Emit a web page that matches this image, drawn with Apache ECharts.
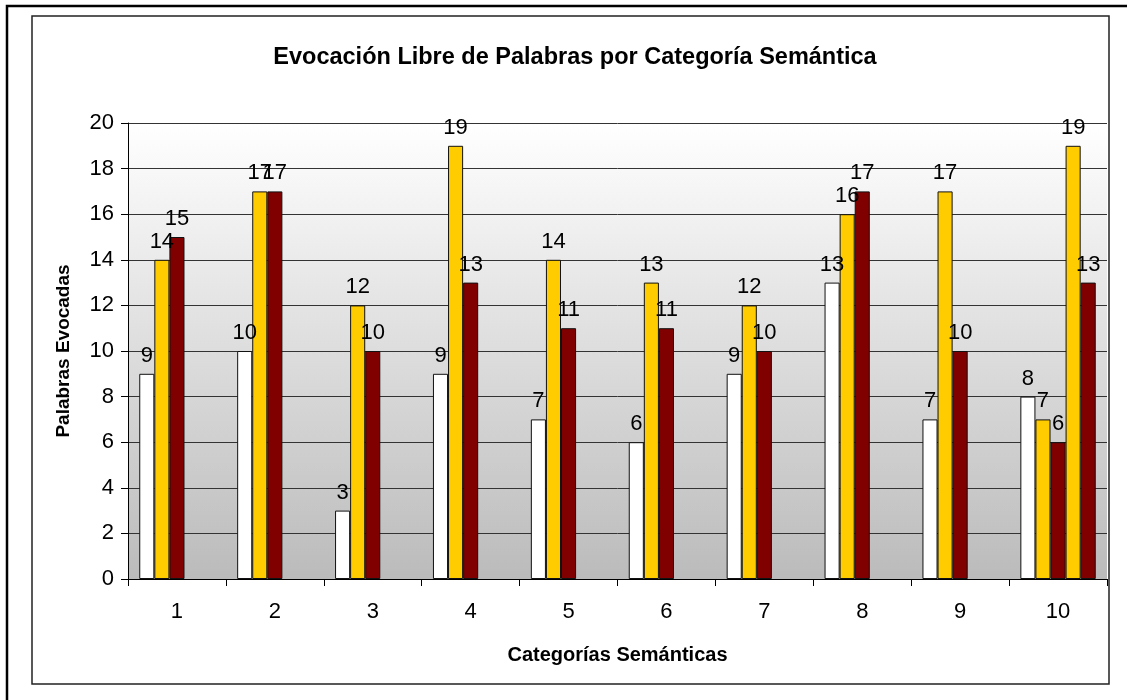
<!DOCTYPE html>
<html>
<head>
<meta charset="utf-8">
<script src="https://cdn.jsdelivr.net/npm/echarts@6/dist/echarts.min.js"></script>
<style>
  html, body { margin: 0; padding: 0; background: #ffffff; }
  #chart { width: 1127px; height: 700px; }
</style>
</head>
<body>
<div id="chart"></div>
<script>
// Semantic categories on the x axis
const categories = ['1', '2', '3', '4', '5', '6', '7', '8', '9', '10'];
// Words evoked per category, one array per bar series
const seriesWhite = [9, 10, 3, 9, 7, 6, 9, 13, 7, 8];
const seriesGold = [14, 17, 12, 19, 14, 13, 12, 16, 17, 7];
const seriesRed = [15, 17, 10, 13, 11, 11, 10, 17, 10, 6];
const seriesGold2 = [null, null, null, null, null, null, null, null, null, 19];
const seriesRed2 = [null, null, null, null, null, null, null, null, null, 13];
// Value axis ticks
const yTicks = [0, 2, 4, 6, 8, 10, 12, 14, 16, 18, 20];

const FONT = 'Liberation Sans, Arial, sans-serif';

function barSeries(data, color) {
  return {
    type: 'bar',
    data: data,
    barGap: '0%',
    barCategoryGap: '23%',
    itemStyle: { color: color, borderColor: '#111', borderWidth: 1 },
    label: {
      show: true,
      position: 'top',
      distance: 7,
      color: '#000',
      fontFamily: FONT,
      fontSize: 22
    }
  };
}

const chart = echarts.init(document.getElementById('chart'), null, { renderer: 'canvas' });
chart.setOption({
  animation: false,
  backgroundColor: '#ffffff',
  title: {
    text: 'Evocación Libre de Palabras por Categoría Semántica',
    left: 570,
    top: 41,
    textAlign: 'center',
    textStyle: { fontFamily: FONT, fontSize: 23.5, fontWeight: 'bold', color: '#000' }
  },
  graphic: [
    {
      type: 'rect',
      shape: { x: 7, y: 6, width: 1300, height: 900 },
      style: { fill: 'none', stroke: '#000', lineWidth: 2.5 },
      silent: true
    },
    {
      type: 'rect',
      shape: { x: 32, y: 16, width: 1077, height: 668 },
      style: { fill: 'none', stroke: '#222', lineWidth: 1.5 },
      silent: true
    }
  ],
  grid: {
    left: 128,
    right: 20,
    top: 123,
    bottom: 121,
    show: true,
    borderWidth: 0,
    backgroundColor: {
      type: 'linear', x: 0, y: 0, x2: 0, y2: 1,
      colorStops: [
        { offset: 0, color: '#ffffff' },
        { offset: 1, color: '#bbbbbb' }
      ]
    }
  },
  xAxis: {
    type: 'category',
    data: categories,
    name: 'Categorías Semánticas',
    nameLocation: 'middle',
    nameGap: 66,
    nameTextStyle: { fontFamily: FONT, fontSize: 20, fontWeight: 'bold', color: '#000' },
    axisLine: { lineStyle: { color: '#000', width: 1 } },
    axisTick: { show: true, length: 7, lineStyle: { color: '#000' } },
    axisLabel: { fontFamily: FONT, fontSize: 22, color: '#000', margin: 22 },
    splitLine: { show: false }
  },
  yAxis: {
    type: 'value',
    min: yTicks[0],
    max: yTicks[yTicks.length - 1],
    interval: yTicks[1] - yTicks[0],
    name: 'Palabras Evocadas',
    nameLocation: 'middle',
    nameGap: 55,
    nameTextStyle: { fontFamily: FONT, fontSize: 19, fontWeight: 'bold', color: '#000' },
    axisLine: { show: true, lineStyle: { color: '#000', width: 1 } },
    axisTick: { show: true, length: 7, lineStyle: { color: '#000' } },
    axisLabel: { fontFamily: FONT, fontSize: 22, color: '#000', margin: 14 },
    splitLine: { show: true, lineStyle: { color: '#333', width: 1 } }
  },
  series: [
    barSeries(seriesWhite, '#ffffff'),
    barSeries(seriesGold, '#ffcc00'),
    barSeries(seriesRed, '#800000'),
    barSeries(seriesGold2, '#ffcc00'),
    barSeries(seriesRed2, '#800000')
  ]
});
</script>
</body>
</html>
